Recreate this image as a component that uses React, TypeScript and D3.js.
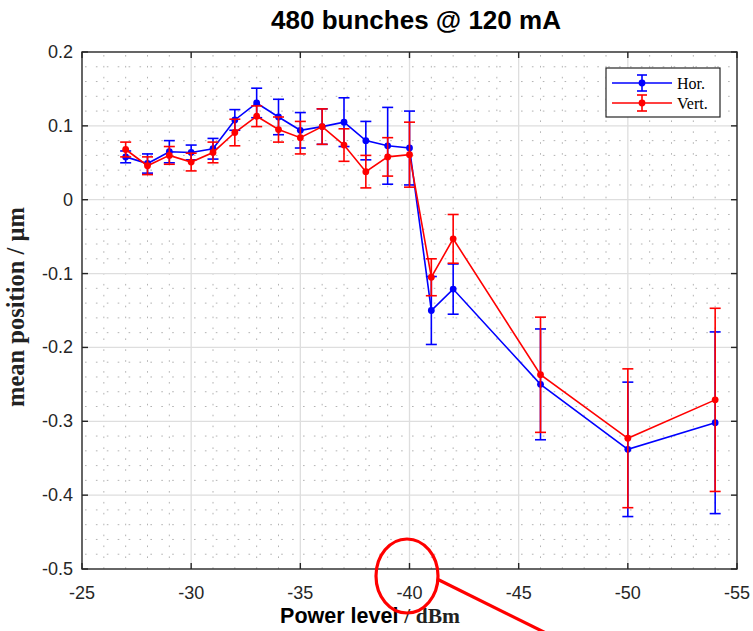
import React from "react";
import * as d3 from "d3";

// Power level settings (dBm) and measured mean positions (µm) with error bars
const power = [-27, -28, -29, -30, -31, -32, -33, -34, -35, -36, -37, -38, -39, -40, -41, -42, -46, -50, -54];
const horMean = [0.058, 0.049, 0.065, 0.064, 0.069, 0.108, 0.131, 0.112, 0.094, 0.099, 0.105, 0.080, 0.073, 0.070, -0.150, -0.121, -0.250, -0.338, -0.302];
const horErr = [0.008, 0.013, 0.015, 0.010, 0.014, 0.014, 0.020, 0.024, 0.024, 0.024, 0.033, 0.026, 0.052, 0.050, 0.046, 0.034, 0.075, 0.091, 0.123];
const vertMean = [0.068, 0.046, 0.060, 0.051, 0.064, 0.091, 0.113, 0.095, 0.084, 0.099, 0.074, 0.038, 0.058, 0.061, -0.105, -0.053, -0.237, -0.323, -0.271];
const vertErr = [0.010, 0.012, 0.012, 0.012, 0.014, 0.018, 0.014, 0.017, 0.022, 0.024, 0.022, 0.022, 0.026, 0.044, 0.025, 0.033, 0.078, 0.094, 0.124];

const xTicks = [-25, -30, -35, -40, -45, -50, -55];
const yTicks = [-0.5, -0.4, -0.3, -0.2, -0.1, 0, 0.1, 0.2];
const seriesNames = ["Hor.", "Vert."];

const W = 753;
const H = 631;
const M = { left: 82, right: 737, top: 52, bottom: 569 };

export default function App() {
  const x = d3.scaleLinear().domain([-25, -55]).range([M.left, M.right]);
  const y = d3.scaleLinear().domain([-0.5, 0.2]).range([M.bottom, M.top]);

  const xMinor = d3.range(-25, -55.5, -1).filter((v) => v % 5 !== 0);
  const yMinor = d3.range(-0.5, 0.2001, 0.02).filter((v) => Math.abs(Math.round(v * 10) - v * 10) > 1e-6);

  const line = d3
    .line<[number, number]>()
    .x((d) => x(d[0]))
    .y((d) => y(d[1]));

  const series = [
    { name: seriesNames[0], mean: horMean, err: horErr, color: "#0000ff" },
    { name: seriesNames[1], mean: vertMean, err: vertErr, color: "#ff0000" },
  ];

  const cap = 5.5;
  const axisColor = "#262626";
  const sans = "'Liberation Sans', Arial, sans-serif";
  const serif = "'Liberation Serif', 'Times New Roman', serif";
  const fmtY = (v: number) => String(Math.round(v * 10) / 10);

  return (
    <svg width={W} height={H} style={{ position: "absolute", left: 0, top: 0, background: "#fff" }}>
      {/* minor grid */}
      <g stroke="#9a9a9a" strokeWidth={1} strokeDasharray="1.6 9.3" opacity={0.75}>
        {xMinor.map((v) => (
          <line key={"xm" + v} x1={x(v)} x2={x(v)} y1={M.top + 3} y2={M.bottom} />
        ))}
        {yMinor.map((v, i) => (
          <line key={"ym" + i} x1={M.left + 3} x2={M.right} y1={y(v)} y2={y(v)} />
        ))}
      </g>
      {/* major grid */}
      <g stroke="#dedede" strokeWidth={1.3}>
        {xTicks.slice(1, -1).map((v) => (
          <line key={"xg" + v} x1={x(v)} x2={x(v)} y1={M.top} y2={M.bottom} />
        ))}
        {yTicks.slice(1, -1).map((v) => (
          <line key={"yg" + v} x1={M.left} x2={M.right} y1={y(v)} y2={y(v)} />
        ))}
      </g>

      {/* data series with error bars */}
      {series.map((s) => {
        const pts = power.map((p, i) => [p, s.mean[i]] as [number, number]);
        return (
          <g key={s.name} stroke={s.color} fill={s.color}>
            <path d={line(pts) || ""} fill="none" strokeWidth={1.6} />
            {power.map((p, i) => {
              const cx = x(p);
              const yt = y(s.mean[i] + s.err[i]);
              const yb = y(s.mean[i] - s.err[i]);
              return (
                <g key={p} strokeWidth={1.6}>
                  <line x1={cx} x2={cx} y1={yt} y2={yb} />
                  <line x1={cx - cap} x2={cx + cap} y1={yt} y2={yt} />
                  <line x1={cx - cap} x2={cx + cap} y1={yb} y2={yb} />
                  <circle cx={cx} cy={y(s.mean[i])} r={3.4} stroke="none" />
                </g>
              );
            })}
          </g>
        );
      })}

      {/* axes box and ticks */}
      <g stroke={axisColor} strokeWidth={1.4} fill="none">
        <rect x={M.left} y={M.top} width={M.right - M.left} height={M.bottom - M.top} />
        {xTicks.map((v) => (
          <g key={"xt" + v}>
            <line x1={x(v)} x2={x(v)} y1={M.bottom} y2={M.bottom - 6} />
            <line x1={x(v)} x2={x(v)} y1={M.top} y2={M.top + 6} />
          </g>
        ))}
        {yTicks.map((v) => (
          <g key={"yt" + v}>
            <line x1={M.left} x2={M.left + 6} y1={y(v)} y2={y(v)} />
            <line x1={M.right} x2={M.right - 6} y1={y(v)} y2={y(v)} />
          </g>
        ))}
      </g>

      {/* tick labels */}
      <g fill={axisColor} fontFamily={sans} fontSize={18}>
        {xTicks.map((v) => (
          <text key={"xl" + v} x={x(v)} y={M.bottom + 30} textAnchor="middle">
            {String(v)}
          </text>
        ))}
        {yTicks.map((v) => (
          <text key={"yl" + v} x={M.left - 9} y={y(v) + 6} textAnchor="end">
            {fmtY(v)}
          </text>
        ))}
      </g>

      {/* title */}
      <text x={416} y={29} textAnchor="middle" fontFamily={sans} fontWeight="bold" fontSize={26} fill="#000">
        480 bunches @ 120 mA
      </text>

      {/* axis labels */}
      <text x={370} y={623} textAnchor="middle" fontWeight="bold" fontSize={21.5} fill="#000">
        <tspan fontFamily={sans}>Power level </tspan>
        <tspan fontFamily={serif} fill="#222">/ dBm</tspan>
      </text>
      <text
        transform={`translate(24, 307) rotate(-90)`}
        textAnchor="middle"
        fontFamily={serif}
        fontWeight="bold"
        fontSize={24.5}
        fill="#222"
      >
        mean position / µm
      </text>

      {/* legend */}
      <g>
        <rect x={606} y={68} width={114} height={49} fill="#fff" stroke={axisColor} strokeWidth={1.2} />
        {series.map((s, i) => {
          const ly = 83 + i * 20;
          return (
            <g key={"lg" + s.name} stroke={s.color} fill={s.color} strokeWidth={1.6}>
              <line x1={612} x2={672} y1={ly} y2={ly} />
              <line x1={642} x2={642} y1={ly - 8} y2={ly + 8} />
              <line x1={637} x2={647} y1={ly - 8} y2={ly - 8} />
              <line x1={637} x2={647} y1={ly + 8} y2={ly + 8} />
              <circle cx={642} cy={ly} r={3.4} stroke="none" />
              <text x={677} y={ly + 5.5} stroke="none" fill="#000" fontFamily={serif} fontSize={16}>
                {s.name}
              </text>
            </g>
          );
        })}
      </g>

      {/* highlight around the -40 dBm tick */}
      <g stroke="#ff0000" strokeWidth={3.2} fill="none">
        <ellipse cx={407} cy={576} rx={31} ry={37} />
        <line x1={437} x2={560} y1={579} y2={640} />
      </g>
    </svg>
  );
}
